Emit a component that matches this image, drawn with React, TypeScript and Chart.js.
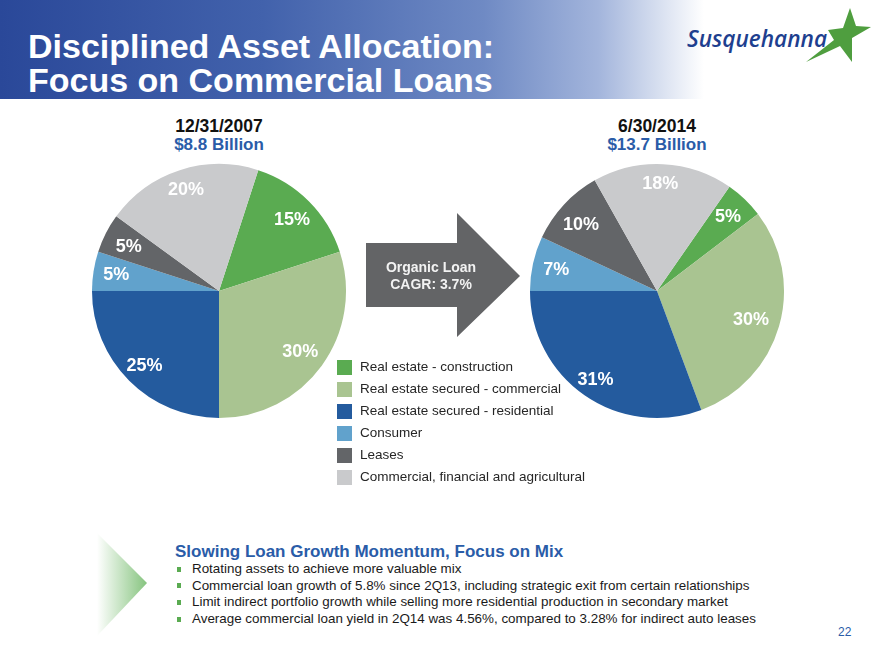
import React, { useEffect, useRef } from "react";
import { Chart, registerables } from "chart.js";

Chart.register(...registerables);

// Loan categories (legend order = slice order)
const categories = [
  "Real estate - construction",
  "Real estate secured - commercial",
  "Real estate secured - residential",
  "Consumer",
  "Leases",
  "Commercial, financial and agricultural",
];

// Portfolio mix, percent of total loans
const mix2007 = [15, 30, 25, 5, 5, 20];
const mix2014 = [5, 30, 31, 7, 10, 18];

const sliceColors = ["#5aab51", "#a9c491", "#245b9e", "#61a2cc", "#636568", "#c9cacc"];

const bullets = [
  "Rotating assets to achieve more valuable mix",
  "Commercial loan growth of 5.8% since 2Q13, including strategic exit from certain relationships",
  "Limit indirect portfolio growth while selling more residential production in secondary market",
  "Average commercial loan yield in 2Q14 was 4.56%, compared to 3.28% for indirect auto leases",
];

const FONT = '"Liberation Sans", Arial, Helvetica, sans-serif';

type PieProps = {
  values: number[];
  rotation: number;
  labelRadius: number[];
  labelNudge: number[];
  left: number;
  top: number;
  size: number;
  pad: number;
};

function LoanPie({ values, rotation, labelRadius, labelNudge, left, top, size, pad }: PieProps) {
  const ref = useRef<HTMLCanvasElement | null>(null);

  useEffect(() => {
    if (!ref.current) return;
    // White percentage labels placed along each slice's mid angle
    const pctLabels = {
      id: "pctLabels",
      afterDatasetsDraw(chart: any) {
        const ctx = chart.ctx;
        const meta = chart.getDatasetMeta(0);
        ctx.save();
        ctx.font = `bold 18px ${FONT}`;
        ctx.fillStyle = "#ffffff";
        ctx.textAlign = "center";
        ctx.textBaseline = "middle";
        meta.data.forEach((arc: any, i: number) => {
          const p = arc.getProps(["x", "y", "startAngle", "endAngle", "outerRadius"], true);
          const mid = (p.startAngle + p.endAngle) / 2 + (labelNudge[i] * Math.PI) / 180;
          const r = p.outerRadius * labelRadius[i];
          ctx.fillText(`${values[i]}%`, p.x + Math.cos(mid) * r, p.y + Math.sin(mid) * r);
        });
        ctx.restore();
      },
    };
    const chart = new Chart(ref.current, {
      type: "pie",
      data: {
        labels: categories,
        datasets: [
          {
            data: values,
            backgroundColor: sliceColors,
            borderWidth: 0,
          },
        ],
      },
      options: {
        responsive: false,
        animation: false,
        rotation,
        layout: { padding: pad },
        plugins: {
          legend: { display: false },
          tooltip: { enabled: false },
        },
      },
      plugins: [pctLabels],
    });
    return () => chart.destroy();
  }, [values, rotation, labelRadius, labelNudge, pad]);

  return (
    <canvas
      ref={ref}
      width={size}
      height={size}
      style={{ position: "absolute", left, top, width: size, height: size }}
    />
  );
}

export default function App() {
  return (
    <div
      style={{
        position: "absolute",
        left: 0,
        top: 0,
        width: 880,
        height: 660,
        background: "#ffffff",
        overflow: "hidden",
        fontFamily: FONT,
      }}
    >
      {/* Header band */}
      <div
        style={{
          position: "absolute",
          left: 0,
          top: 0,
          width: 880,
          height: 99,
          background:
            "linear-gradient(90deg, #2a4899 0%, #4262ac 30%, #6f8ac4 55%, #a3b5dc 68%, #d8e0f0 75%, #ffffff 80%)",
        }}
      />
      <div
        style={{
          position: "absolute",
          left: 28,
          top: 29,
          fontSize: 34,
          lineHeight: "34px",
          fontWeight: "bold",
          color: "#ffffff",
          whiteSpace: "nowrap",
        }}
      >
        <div>Disciplined Asset Allocation:</div>
        <div>Focus on Commercial Loans</div>
      </div>

      {/* Logo */}
      <svg style={{ position: "absolute", left: 680, top: 0 }} width={200} height={70}>
        <polygon
          points="170,8 176,26 191,27 172,38 172,62 160,46 126,62 154,40 148,30 163,28"
          fill="#4f9e3f"
        />
        <text
          x={7}
          y={47}
          textLength={140}
          lengthAdjust="spacingAndGlyphs"
          fontFamily='"Open Sans", sans-serif'
          fontStyle="italic"
          fontWeight={600}
          fontSize={23}
          fill="#1e3f8f"
        >
          Susquehanna
        </text>
      </svg>

      {/* Pie headings */}
      <div style={{ position: "absolute", left: 119, width: 200, top: 116, textAlign: "center", fontWeight: "bold", fontSize: 17.5, lineHeight: "20px", color: "#111" }}>
        12/31/2007
      </div>
      <div style={{ position: "absolute", left: 119, width: 200, top: 135, textAlign: "center", fontWeight: "bold", fontSize: 17, lineHeight: "20px", color: "#2a5ca8" }}>
        $8.8 Billion
      </div>
      <div style={{ position: "absolute", left: 557, width: 200, top: 116, textAlign: "center", fontWeight: "bold", fontSize: 17.5, lineHeight: "20px", color: "#111" }}>
        6/30/2014
      </div>
      <div style={{ position: "absolute", left: 557, width: 200, top: 135, textAlign: "center", fontWeight: "bold", fontSize: 17, lineHeight: "20px", color: "#2a5ca8" }}>
        $13.7 Billion
      </div>

      <LoanPie
        values={mix2007}
        rotation={18}
        labelRadius={[0.8, 0.8, 0.83, 0.82, 0.79, 0.84]}
        labelNudge={[1, 1, 0, 0, -1, 0]}
        left={82}
        top={154}
        size={274}
        pad={10}
      />
      <LoanPie
        values={mix2014}
        rotation={34.8}
        labelRadius={[0.81, 0.775, 0.85, 0.81, 0.79, 0.84]}
        labelNudge={[0, 1, 0, -1, -2, -1]}
        left={520}
        top={154}
        size={274}
        pad={10}
      />

      {/* Growth arrow */}
      <svg style={{ position: "absolute", left: 360, top: 205 }} width={170} height={140}>
        <polygon points="6,38 97,38 97,8 160,71 97,132 97,102 6,102" fill="#636466" />
      </svg>
      <div
        style={{
          position: "absolute",
          left: 371,
          width: 120,
          top: 259,
          textAlign: "center",
          color: "#f2f2f2",
          fontWeight: "bold",
          fontSize: 14,
          lineHeight: "17px",
        }}
      >
        <div>Organic Loan</div>
        <div>CAGR: 3.7%</div>
      </div>

      {/* Legend */}
      <div style={{ position: "absolute", left: 337, top: 356 }}>
        {categories.map((c, i) => (
          <div key={c} style={{ display: "flex", alignItems: "center", height: 22 }}>
            <div style={{ width: 15, height: 15, background: sliceColors[i], marginRight: 8 }} />
            <div style={{ fontSize: 13.5, lineHeight: "16px", color: "#262626", whiteSpace: "nowrap" }}>{c}</div>
          </div>
        ))}
      </div>

      {/* Bottom commentary */}
      <svg style={{ position: "absolute", left: 90, top: 525 }} width={70} height={120}>
        <defs>
          <linearGradient id="chev" x1="0" y1="0" x2="1" y2="0">
            <stop offset="0" stopColor="#ffffff" />
            <stop offset="1" stopColor="#86c47f" />
          </linearGradient>
        </defs>
        <polygon points="7,8 57,58 7,111" fill="url(#chev)" />
      </svg>
      <div
        style={{
          position: "absolute",
          left: 175,
          top: 541,
          fontSize: 17,
          lineHeight: "22px",
          fontWeight: "bold",
          color: "#2a5ca8",
          whiteSpace: "nowrap",
        }}
      >
        Slowing Loan Growth Momentum, Focus on Mix
      </div>
      <div style={{ position: "absolute", left: 177, top: 561 }}>
        {bullets.map((b) => (
          <div key={b} style={{ display: "flex", alignItems: "center", height: 16.6 }}>
            <div style={{ width: 4, height: 5, background: "#5aab51", marginRight: 11 }} />
            <div style={{ fontSize: 13.4, lineHeight: "16px", color: "#1a1a1a", whiteSpace: "nowrap" }}>{b}</div>
          </div>
        ))}
      </div>
      <div style={{ position: "absolute", left: 838, top: 624, fontSize: 12, lineHeight: "16px", color: "#2a5ca8" }}>
        22
      </div>
    </div>
  );
}
